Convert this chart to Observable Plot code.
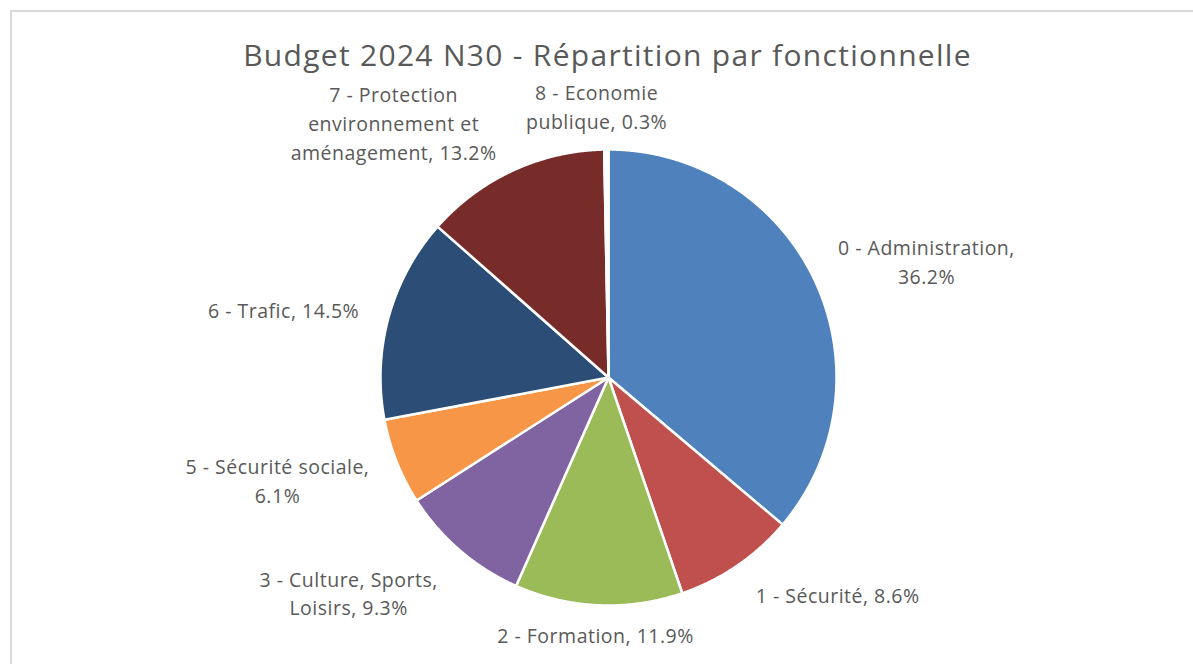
<!DOCTYPE html>
<html>
<head>
<meta charset="utf-8">
<script src="https://cdn.jsdelivr.net/npm/d3@7"></script>
<script src="https://cdn.jsdelivr.net/npm/@observablehq/plot@0.6"></script>
<style>
  html, body { margin: 0; padding: 0; background: #fff; overflow: hidden; }
  body { font-family: "Open Sans", sans-serif; }
  #wrap { position: relative; width: 1193px; height: 664px; }
  #frame { position: absolute; left: 10px; top: 10px; width: 1260px; height: 720px;
           border: 2px solid #d9d9d9; box-sizing: border-box; }
  #title { position: absolute; left: 0; top: 33px; width: 1215px; text-align: center;
           font-size: 30px; line-height: 44px; letter-spacing: 1.3px; color: #595959; }
  #chart { position: absolute; left: 0; top: 80px; }
</style>
</head>
<body>
<div id="wrap">
  <div id="frame"></div>
  <div id="title">Budget 2024 N30 - Répartition par fonctionnelle</div>
  <div id="chart"></div>
</div>
<script>
// ---- data ----
const categories = [
  "0 - Administration",
  "1 - Sécurité",
  "2 - Formation",
  "3 - Culture, Sports, Loisirs",
  "5 - Sécurité sociale",
  "6 - Trafic",
  "7 - Protection environnement et aménagement",
  "8 - Economie publique"
];
const shares = [36.2, 8.6, 11.9, 9.3, 6.1, 14.5, 13.2, 0.3];
// label text as wrapped in the original chart
const labelNames = [
  "0 - Administration",
  "1 - Sécurité",
  "2 - Formation",
  "3 - Culture, Sports,\nLoisirs",
  "5 - Sécurité sociale",
  "6 - Trafic",
  "7 - Protection\nenvironnement et\naménagement",
  "8 - Economie\npublique"
];
const valueOnNewLine = [true, false, false, false, true, false, false, false];
const colors = ["#4f81bd", "#c0504d", "#9bbb59", "#8064a2", "#f79646", "#2c4d75", "#772c2a", "#ffffff"];

// ---- layout (label placement: polar angle in degrees clockwise from 12 o'clock, radius in pie radii) ----
const labelAngle = [69.8, 133.3, 182.9, 230.5, 252.9, 282.0, 320.0, 357.5];
const labelRadius = [1.486, 1.381, 1.124, 1.477, 1.519, 1.457, 1.466, 1.194];

const W = 1193, H = 584, R = 228, cx = 608, cy = 297;

const pie = d3.pie().sort(null).value(d => d)(shares);

const slicePts = [];
pie.forEach((p, i) => {
  const a0 = p.startAngle, a1 = p.endAngle;
  const n = Math.max(2, Math.ceil((a1 - a0) / (Math.PI / 720)));
  slicePts.push({cat: categories[i], x: 0, y: 0});
  for (let k = 0; k <= n; k++) {
    const a = a0 + (a1 - a0) * k / n;
    slicePts.push({cat: categories[i], x: Math.sin(a), y: Math.cos(a)});
  }
});

const fmt = d3.format(".1f");
const labels = categories.map((c, i) => {
  const a = labelAngle[i] * Math.PI / 180;
  return {
    cat: c,
    x: Math.sin(a) * labelRadius[i],
    y: Math.cos(a) * labelRadius[i],
    text: labelNames[i] + "," + (valueOnNewLine[i] ? "\n" : " ") + fmt(shares[i]) + "%"
  };
});

const chart = Plot.plot({
  width: W,
  height: H,
  margin: 0,
  style: {background: "transparent", overflow: "visible", letterSpacing: "0.5px"},
  x: {domain: [-cx / R, (W - cx) / R], range: [0, W], axis: null},
  y: {domain: [-(H - cy) / R, cy / R], range: [H, 0], axis: null},
  color: {domain: categories, range: colors},
  marks: [
    Plot.line(slicePts, {
      x: "x", y: "y", z: "cat", fill: "cat",
      stroke: "#ffffff", strokeWidth: 2.5, strokeLinejoin: "round",
      curve: "linear-closed"
    }),
    Plot.text(labels, {
      x: "x", y: "y", text: "text",
      fontSize: 19.5, fill: "#595959", fontFamily: "Open Sans",
      textAnchor: "middle", lineAnchor: "middle", lineHeight: 1.48
    })
  ]
});
document.getElementById("chart").appendChild(chart);
</script>
</body>
</html>
